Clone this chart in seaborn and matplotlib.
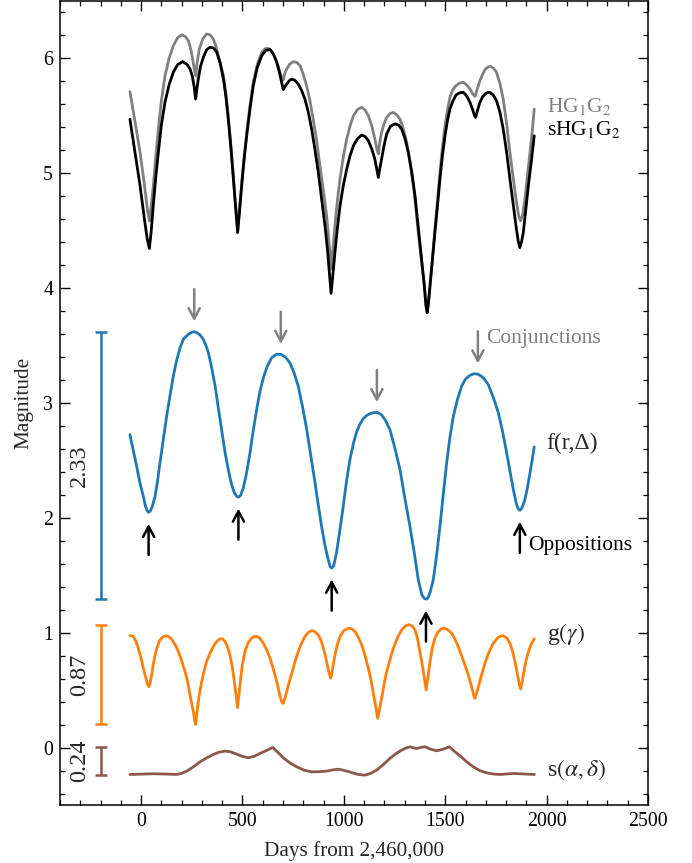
import numpy as np
import pandas as pd
import matplotlib
matplotlib.use("Agg")
import matplotlib.pyplot as plt
import seaborn as sns

# ---------------- data ----------------
# sHG1G2 (black) total magnitude
shg_days = [-55, -30, -5, 15, 30, 41, 50, 60, 72, 85, 100, 118, 138, 159, 180, 205, 225,
            241, 252, 261, 266, 269, 274, 282, 293, 307, 323, 340, 357, 373, 390, 406,
            418, 430, 443, 455, 466, 476, 486, 496, 508, 521, 537, 553, 573, 595, 615,
            636, 652, 669, 682, 693, 698, 701, 709, 718, 730, 743, 758, 775, 792, 808,
            825, 841, 858, 874, 890, 907, 920, 930, 937, 945, 956, 968, 981, 997, 1014,
            1030, 1047, 1067, 1088, 1105, 1121, 1138, 1153, 1163, 1170, 1177, 1186,
            1198, 1211, 1230, 1252, 1270, 1285, 1302, 1318, 1335, 1351, 1363, 1375,
            1386, 1397, 1405, 1411, 1417, 1425, 1437, 1449, 1462, 1474, 1486, 1499,
            1511, 1523, 1538, 1553, 1570, 1589, 1605, 1622, 1636, 1645, 1650, 1658,
            1671, 1684, 1696, 1710, 1721, 1737, 1753, 1770, 1786, 1803, 1819, 1835,
            1849, 1860, 1868, 1876, 1885, 1897, 1910, 1925, 1939]
shg_mag = [5.47, 5.18, 4.89, 4.62, 4.43, 4.345, 4.50, 4.72, 4.96, 5.18, 5.42, 5.62, 5.77,
           5.88, 5.945, 5.972, 5.95, 5.91, 5.85, 5.76, 5.69, 5.646, 5.72, 5.82, 5.93,
           6.01, 6.075, 6.097, 6.09, 6.054, 5.96, 5.82, 5.67, 5.47, 5.22, 4.95, 4.70,
           4.484, 4.68, 4.89, 5.12, 5.33, 5.56, 5.76, 5.92, 6.024, 6.07, 6.077, 6.04,
           5.966, 5.88, 5.79, 5.75, 5.728, 5.755, 5.777, 5.805, 5.82, 5.81, 5.777, 5.72,
           5.646, 5.53, 5.385, 5.20, 5.007, 4.78, 4.542, 4.32, 4.10, 3.955, 4.10, 4.31,
           4.52, 4.717, 4.89, 5.036, 5.15, 5.24, 5.30, 5.333, 5.32, 5.283, 5.21, 5.123,
           5.03, 4.964, 5.04, 5.123, 5.24, 5.341, 5.41, 5.43, 5.42, 5.385, 5.30, 5.18,
           5.01, 4.804, 4.60, 4.397, 4.20, 4.019, 3.85, 3.787, 3.87, 4.019, 4.25, 4.484,
           4.72, 4.95, 5.15, 5.327, 5.46, 5.559, 5.63, 5.681, 5.70, 5.705, 5.675, 5.618,
           5.55, 5.50, 5.487, 5.54, 5.618, 5.665, 5.69, 5.704, 5.705, 5.68, 5.632, 5.53,
           5.385, 5.18, 4.95, 4.73, 4.542, 4.41, 4.353, 4.40, 4.484, 4.68, 4.891, 5.11,
           5.327]

# HG1G2 (grey) total magnitude
hg_days = [-55, -30, -5, 15, 30, 41, 50, 60, 72, 85, 100, 118, 138, 159, 180, 200, 218,
           233, 245, 254, 263, 270, 276, 287, 304, 323, 340, 356, 370, 381, 393, 406,
           418, 430, 443, 455, 466, 476, 486, 496, 508, 521, 537, 553, 573, 595, 612,
           627, 645, 660, 673, 685, 694, 701, 709, 718, 733, 751, 768, 784, 800, 816,
           833, 849, 866, 882, 899, 915, 926, 932, 937, 945, 956, 968, 981, 997, 1014,
           1030, 1047, 1067, 1088, 1105, 1121, 1138, 1153, 1163, 1170, 1177, 1186,
           1198, 1211, 1228, 1244, 1260, 1277, 1293, 1310, 1326, 1343, 1355, 1367,
           1382, 1397, 1405, 1411, 1417, 1425, 1437, 1449, 1462, 1474, 1486, 1499,
           1511, 1523, 1538, 1553, 1570, 1589, 1605, 1622, 1636, 1647, 1656, 1671,
           1684, 1696, 1710, 1724, 1738, 1753, 1770, 1786, 1803, 1819, 1835, 1849,
           1862, 1872, 1882, 1893, 1905, 1918, 1930, 1939]
hg_mag = [5.71, 5.45, 5.18, 4.92, 4.70, 4.586, 4.72, 4.89, 5.14, 5.385, 5.63, 5.85, 6.00,
          6.11, 6.18, 6.205, 6.19, 6.155, 6.08, 5.995, 5.90, 5.85, 5.96, 6.08, 6.17,
          6.213, 6.205, 6.17, 6.10, 6.024, 5.94, 5.85, 5.70, 5.50, 5.24, 4.98, 4.72,
          4.50, 4.70, 4.92, 5.14, 5.356, 5.59, 5.79, 5.95, 6.053, 6.085, 6.088, 6.06,
          6.01, 5.95, 5.879, 5.83, 5.81, 5.87, 5.908, 5.95, 5.972, 5.965, 5.937, 5.86,
          5.763, 5.63, 5.47, 5.28, 5.065, 4.85, 4.63, 4.42, 4.30, 4.17, 4.32, 4.542,
          4.76, 4.95, 5.14, 5.298, 5.41, 5.50, 5.555, 5.574, 5.55, 5.50, 5.41, 5.298,
          5.21, 5.167, 5.27, 5.356, 5.43, 5.487, 5.52, 5.53, 5.51, 5.472, 5.39, 5.269,
          5.10, 4.891, 4.70, 4.484, 4.25, 4.019, 3.85, 3.787, 3.87, 4.019, 4.27, 4.513,
          4.77, 5.007, 5.22, 5.414, 5.55, 5.661, 5.73, 5.763, 5.785, 5.792, 5.77, 5.734,
          5.69, 5.67, 5.72, 5.806, 5.86, 5.902, 5.925, 5.931, 5.915, 5.879, 5.78, 5.647,
          5.43, 5.18, 4.96, 4.775, 4.63, 4.586, 4.64, 4.775, 4.97, 5.18, 5.38, 5.559]

# f(r, Delta) geometric term (blue)
f_days = [-55, -40, -22, -5, 11, 22, 30, 37, 45, 55, 69, 80, 93, 110, 126, 142, 159,
          175, 192, 210, 233, 248, 262, 276, 290, 305, 318, 332, 348, 365, 380, 397,
          413, 430, 445, 460, 472, 480, 490, 504, 520, 537, 553, 570, 586, 603, 622,
          644, 667, 690, 712, 734, 755, 775, 796, 817, 838, 858, 875, 890, 907, 923,
          932, 940, 950, 964, 980, 997, 1013, 1030, 1047, 1063, 1080, 1096, 1115,
          1135, 1150, 1166, 1185, 1205, 1227, 1250, 1277, 1300, 1326, 1347, 1367,
          1385, 1397, 1405, 1413, 1425, 1441, 1457, 1474, 1490, 1507, 1523, 1540,
          1560, 1581, 1600, 1620, 1640, 1663, 1688, 1712, 1737, 1762, 1783, 1803,
          1820, 1836, 1850, 1860, 1868, 1878, 1893, 1905, 1918, 1930, 1939]
f_mag = [2.726, 2.60, 2.45, 2.30, 2.189, 2.10, 2.065, 2.049, 2.06, 2.10, 2.189, 2.31,
         2.479, 2.69, 2.886, 3.06, 3.235, 3.37, 3.482, 3.56, 3.598, 3.615, 3.622, 3.612,
         3.595, 3.56, 3.51, 3.438, 3.31, 3.148, 2.97, 2.77, 2.58, 2.421, 2.30, 2.218,
         2.188, 2.182, 2.195, 2.261, 2.39, 2.567, 2.76, 2.944, 3.10, 3.22, 3.32, 3.395,
         3.425, 3.424, 3.40, 3.351, 3.26, 3.148, 2.97, 2.77, 2.53, 2.305, 2.10, 1.927,
         1.76, 1.637, 1.58, 1.564, 1.585, 1.70, 1.89, 2.102, 2.32, 2.508, 2.65, 2.75,
         2.82, 2.865, 2.895, 2.912, 2.918, 2.918, 2.90, 2.85, 2.77, 2.62, 2.421, 2.18,
         1.927, 1.70, 1.462, 1.33, 1.30, 1.294, 1.30, 1.35, 1.462, 1.67, 1.927, 2.20,
         2.479, 2.70, 2.886, 3.03, 3.148, 3.21, 3.24, 3.255, 3.252, 3.22, 3.162, 3.05,
         2.915, 2.75, 2.567, 2.40, 2.247, 2.13, 2.08, 2.067, 2.085, 2.16, 2.26, 2.392,
         2.52, 2.619]

# g(gamma) phase term (orange)
g_days = [-55, -45, -35, -25, -14, 0, 11, 20, 28, 34, 39, 45, 52, 60, 69, 80, 93, 108,
          122, 136, 151, 167, 184, 200, 217, 230, 241, 250, 258, 264, 269, 275, 282,
          290, 299, 310, 323, 340, 356, 372, 389, 402, 414, 426, 438, 450, 460, 468,
          476, 483, 491, 500, 512, 528, 545, 558, 570, 585, 603, 620, 636, 652, 669,
          680, 688, 695, 701, 709, 718, 730, 743, 758, 775, 791, 808, 825, 841, 857,
          874, 888, 899, 910, 918, 926, 935, 942, 949, 956, 968, 981, 1000, 1022, 1040,
          1055, 1072, 1088, 1105, 1121, 1136, 1150, 1161, 1167, 1175, 1186, 1198, 1211,
          1228, 1244, 1265, 1285, 1303, 1321, 1338, 1351, 1362, 1372, 1383, 1392, 1400,
          1406, 1412, 1418, 1425, 1436, 1449, 1465, 1480, 1494, 1512, 1532, 1548, 1564,
          1580, 1597, 1614, 1630, 1640, 1646, 1655, 1666, 1680, 1696, 1716, 1737, 1760,
          1783, 1803, 1819, 1832, 1844, 1853, 1860, 1866, 1872, 1880, 1888, 1900, 1913,
          1926, 1939]
g_mag = [0.977, 0.975, 0.96, 0.925, 0.866, 0.78, 0.692, 0.63, 0.576, 0.545, 0.532, 0.57,
         0.634, 0.725, 0.808, 0.88, 0.939, 0.965, 0.975, 0.968, 0.945, 0.90, 0.837, 0.755,
         0.663, 0.57, 0.46, 0.38, 0.314, 0.24, 0.204, 0.30, 0.401, 0.495, 0.576, 0.665,
         0.75, 0.825, 0.881, 0.925, 0.948, 0.948, 0.925, 0.88, 0.808, 0.70, 0.576, 0.46,
         0.349, 0.47, 0.605, 0.73, 0.837, 0.915, 0.954, 0.968, 0.97, 0.955, 0.91, 0.85,
         0.779, 0.685, 0.576, 0.49, 0.43, 0.395, 0.387, 0.43, 0.489, 0.57, 0.648, 0.745,
         0.837, 0.91, 0.968, 1.005, 1.02, 1.012, 0.983, 0.93, 0.866, 0.79, 0.721, 0.66,
         0.605, 0.66, 0.74, 0.808, 0.90, 0.968, 1.02, 1.041, 1.035, 1.012, 0.96, 0.895,
         0.80, 0.692, 0.57, 0.43, 0.32, 0.256, 0.33, 0.43, 0.55, 0.663, 0.77, 0.866,
         0.96, 1.026, 1.06, 1.072, 1.058, 1.026, 0.96, 0.866, 0.76, 0.663, 0.57, 0.503,
         0.58, 0.66, 0.75, 0.87, 0.954, 1.01, 1.035, 1.043, 1.028, 0.997, 0.945, 0.881,
         0.805, 0.721, 0.63, 0.532, 0.46, 0.43, 0.48, 0.547, 0.64, 0.736, 0.835, 0.91,
         0.96, 0.977, 0.958, 0.91, 0.84, 0.75, 0.67, 0.605, 0.545, 0.512, 0.58, 0.663,
         0.77, 0.852, 0.91, 0.948]

# s(alpha, delta) spin term (brown)
s_days = [-55, 0, 60, 120, 175, 200, 225, 258, 291, 323, 356, 385, 414, 440, 463, 495,
          529, 558, 586, 620, 649, 675, 701, 733, 767, 805, 841, 878, 915, 945, 973,
          1005, 1038, 1070, 1104, 1133, 1162, 1195, 1227, 1256, 1285, 1306, 1326, 1342,
          1359, 1380, 1400, 1428, 1458, 1490, 1520, 1545, 1573, 1605, 1638, 1670, 1704,
          1737, 1770, 1805, 1836, 1890, 1940]
s_mag = [-0.232, -0.229, -0.226, -0.228, -0.232, -0.222, -0.203, -0.165, -0.122, -0.088,
         -0.058, -0.038, -0.029, -0.034, -0.049, -0.072, -0.087, -0.074, -0.049, -0.022,
         0.003, -0.04, -0.087, -0.13, -0.165, -0.195, -0.209, -0.208, -0.203, -0.192,
         -0.186, -0.198, -0.215, -0.232, -0.238, -0.222, -0.194, -0.145, -0.093, -0.052,
         -0.02, -0.002, 0.009, 0.0, -0.006, 0.004, 0.009, -0.012, -0.026, -0.012, 0.009,
         -0.03, -0.07, -0.12, -0.165, -0.198, -0.218, -0.228, -0.232, -0.227, -0.223,
         -0.228, -0.232]

term_labels = ["f(r,Δ)", r"g$(\gamma)$", r"s$(\alpha, \delta)$"]
range_labels = ["2.33", "0.87", "0.24"]

opposition_days = [37, 480, 940, 1405, 1868]
opposition_mag = [2.049, 2.182, 1.564, 1.294, 2.067]
conjunction_days = [262, 689, 1163, 1661]
conjunction_mag = [3.622, 3.425, 2.918, 3.255]

xticks = [0, 500, 1000, 1500, 2000, 2500]
yticks = [0, 1, 2, 3, 4, 5, 6]

# ---------------- style ----------------
sns.set_theme(style="ticks")
plt.rcParams["font.family"] = ["Liberation Serif", "DejaVu Serif"]
plt.rcParams["mathtext.fontset"] = "stix"
plt.rcParams.update({
    "xtick.direction": "in", "ytick.direction": "in",
    "xtick.top": True, "ytick.right": True,
    "xtick.major.size": 7, "ytick.major.size": 7,
    "xtick.minor.size": 3.6, "ytick.minor.size": 3.6,
    "xtick.major.width": 1.0, "ytick.major.width": 1.0,
    "xtick.minor.width": 0.9, "ytick.minor.width": 0.9,
    "xtick.color": "black", "ytick.color": "black",
    "axes.edgecolor": "black", "axes.linewidth": 1.1,
    "xtick.labelsize": 14.3, "ytick.labelsize": 14.3,
})

BLUE, ORANGE, BROWN, GREY = "#1f77b4", "#ff7f0e", "#8c564b", "#808080"

fig = plt.figure(figsize=(6.92, 8.63), dpi=100)
ax = fig.add_axes([0.0867, 0.0669, 0.8497, 0.932])

line_kw = dict(lw=2.0, solid_joinstyle="round", solid_capstyle="round")
sns.lineplot(x=hg_days, y=hg_mag, ax=ax, color=GREY, **line_kw)
sns.lineplot(x=shg_days, y=shg_mag, ax=ax, color="black", **line_kw)
sns.lineplot(x=f_days, y=f_mag, ax=ax, color=BLUE, **line_kw)
sns.lineplot(x=g_days, y=g_mag, ax=ax, color=ORANGE, **line_kw)
sns.lineplot(x=s_days, y=s_mag, ax=ax, color=BROWN, **line_kw)

# amplitude bars on the left
bar_x = -200
for vals, col, lab in zip([f_mag, g_mag, s_mag], [BLUE, ORANGE, BROWN], range_labels):
    lo, hi = min(vals), max(vals)
    mid = 0.5 * (lo + hi)
    ax.errorbar([bar_x], [mid], yerr=[[mid - lo], [hi - mid]], color=col,
                capsize=4.5, capthick=1.8, elinewidth=1.8, fmt="none")
    ax.text(bar_x - 105, mid, lab, rotation=90, ha="center", va="center",
            fontsize=17.5)

# conjunction / opposition arrows
aprops = dict(arrowstyle="->,head_length=0.75,head_width=0.4", lw=1.8,
              shrinkA=0, shrinkB=0, mutation_scale=10)
for d, m in zip(conjunction_days, conjunction_mag):
    ax.annotate("", xy=(d, m + 0.09), xytext=(d, m + 0.37),
                arrowprops=dict(aprops, color=GREY))
for d, m in zip(opposition_days, opposition_mag):
    ax.annotate("", xy=(d, m - 0.10), xytext=(d, m - 0.37),
                arrowprops=dict(aprops, color="black"))
ax.text(1700, 3.565, "Conjunctions", color=GREY, fontsize=15.5,
        ha="left", va="center")
ax.text(1910, 1.765, "Oppositions", color="black", fontsize=15.5,
        ha="left", va="center")

# curve labels
ax.text(2000, 5.53, r"HG$_1$G$_2$", color=GREY, fontsize=15.5, va="baseline")
ax.text(2000, 5.33, r"sHG$_1$G$_2$", color="black", fontsize=15.5, va="baseline")
ax.text(2000, 2.60, term_labels[0], fontsize=17, va="baseline")
ax.text(2000, 0.935, term_labels[1], fontsize=17, va="baseline")
ax.text(2000, -0.24, term_labels[2], fontsize=17, va="baseline")

ax.set_xlim(-400, 2500)
ax.set_ylim(-0.5, 6.5)
ax.set_xticks(xticks)
ax.set_yticks(yticks)
ax.xaxis.set_minor_locator(matplotlib.ticker.MultipleLocator(100))
ax.yaxis.set_minor_locator(matplotlib.ticker.MultipleLocator(0.2))
ax.tick_params(which="both", top=True, right=True, direction="in")
ax.tick_params(which="major", pad=5)
ax.set_xlabel("Days from 2,460,000", fontsize=15.3, labelpad=7)
ax.set_ylabel("Magnitude", fontsize=15.3, labelpad=7)

fig.savefig("out.png", dpi=100)
